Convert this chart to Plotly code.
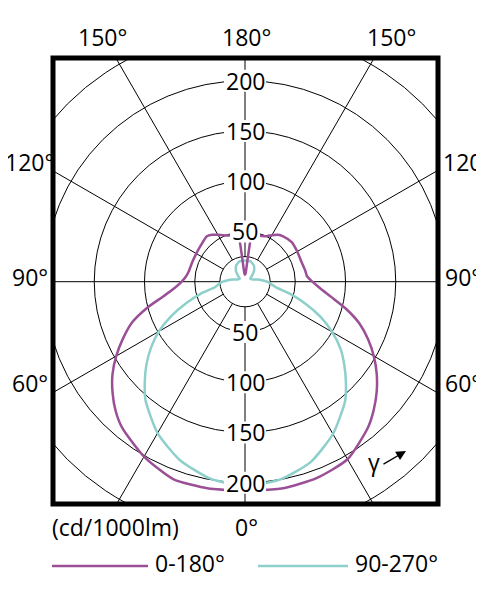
import numpy as np
import plotly.graph_objects as go

# gamma = angle from nadir (deg), intensities in cd/1000lm
gamma = [0, 10, 20, 30, 40, 45, 50, 55, 60, 65, 70, 75, 80, 85, 90, 95, 100,
         110, 120, 130, 140, 145, 150, 155, 160, 165, 170, 172, 173, 174, 176, 180]
# C0-180 plane (right side C0, left side C180)
c0 = [208, 209, 208, 204, 190, 181, 171, 160, 148, 135, 121, 104, 87, 75, 67, 62, 61,
      59.5, 60, 61, 59, 57, 53.5, 50, 48.5, 47.5, 47, 45, 30, 15, 8, 7]
c180 = [208, 209, 209, 201, 190, 182, 172, 161, 148, 134, 120, 101, 82, 70, 63, 59, 57,
        56, 56, 57, 59, 57, 54, 51, 49, 48, 47, 45, 30, 15, 8, 7]
# C90-270 plane
c90 = [204, 200, 191, 175, 155, 142, 129, 116, 100, 83, 64, 46, 31, 26, 22, 17, 12,
       7, 6, 9, 14, 16, 18, 19, 20, 21, 21, 21, 21, 21, 21, 21]
c270 = [204, 199, 189, 174, 154, 141, 128, 114, 99, 81, 62, 45, 30, 26, 22, 17, 12,
        7, 6, 9, 14, 16, 18, 19, 20, 21, 21, 21, 21, 21, 21, 21]

ring_values = [25, 50, 100, 150, 200, 250]
ring_labels = [50, 100, 150, 200]
spoke_angles = list(range(0, 360, 30))

MAGENTA = "#9a4f96"
CYAN = "#8dcfcb"
FONT = "Open Sans"
FS = 23

# page geometry (window px); the page body adds an 8px offset
OFF = 8
W, H = 484 - OFF, 600 - OFF
L, R, T, B = 53, 438, 58, 504
CX, CY = 245, 281.7
S = 1.005  # px per cd/1000lm


def px(x):
    return (x - L) / (R - L)


def py(y):
    return (B - y) / (B - T)


def plane_xy(left, right):
    g = np.radians(gamma)
    il, ir = np.array(left, float), np.array(right, float)
    x = np.concatenate([(-il * np.sin(g))[::-1], ir * np.sin(g)])
    y = np.concatenate([(-il * np.cos(g))[::-1], -ir * np.cos(g)])
    return x, y


fig = go.Figure()
x1, y1 = plane_xy(c270, c90)
fig.add_trace(go.Scatter(x=x1, y=y1, mode="lines", name="90-270°",
                         line=dict(color=CYAN, width=2.5, shape="spline", smoothing=0.6)))
x0, y0 = plane_xy(c180, c0)
fig.add_trace(go.Scatter(x=x0, y=y0, mode="lines", name="0-180°",
                         line=dict(color=MAGENTA, width=2.5, shape="spline", smoothing=0.6)))

shapes = []
for r in ring_values:
    shapes.append(dict(type="circle", xref="x", yref="y", x0=-r, x1=r, y0=-r, y1=r,
                       line=dict(color="black", width=1), layer="below"))
for a in spoke_angles:
    t = np.radians(a)
    shapes.append(dict(type="line", xref="x", yref="y",
                       x0=25 * np.sin(t), y0=-25 * np.cos(t),
                       x1=400 * np.sin(t), y1=-400 * np.cos(t),
                       line=dict(color="black", width=1), layer="below"))

annotations = []
for v in ring_labels:
    hw = (15 if v < 100 else 21) / S
    hh = 11 / S
    for sgn in (1, -1):
        shapes.append(dict(type="rect", xref="x", yref="y", x0=-hw, x1=hw,
                           y0=sgn * v - hh, y1=sgn * v + hh,
                           fillcolor="white", line=dict(width=0), layer="above"))
        annotations.append(dict(x=0, y=sgn * v, xref="x", yref="y", text=str(v),
                                showarrow=False, xanchor="center", yanchor="middle",
                                font=dict(size=FS)))

# frame
shapes.append(dict(type="rect", xref="paper", yref="paper", x0=0, x1=1, y0=0, y1=1,
                   line=dict(color="black", width=5), layer="above"))
# legend lines
shapes.append(dict(type="line", xref="paper", yref="paper", x0=px(52), x1=px(148),
                   y0=py(566), y1=py(566), line=dict(color=MAGENTA, width=2.5)))
shapes.append(dict(type="line", xref="paper", yref="paper", x0=px(258), x1=px(348),
                   y0=py(566), y1=py(566), line=dict(color=CYAN, width=2.5)))

outer_labels = [
    ("150°", 76, 37), ("180°", 220, 37), ("150°", 365, 37),
    ("120°", 3, 162), ("90°", 10, 277), ("60°", 10, 383),
    ("120°", 441, 162), ("90°", 443, 277), ("60°", 443, 383),
    ("(cd/1000lm)", 50, 527), ("0°", 233, 527),
    ("0-180°", 153, 563), ("90-270°", 353, 563),
]
for txt, lx, ly in outer_labels:
    annotations.append(dict(x=px(lx), y=py(ly), xref="paper", yref="paper", text=txt,
                            showarrow=False, xanchor="left", yanchor="middle",
                            font=dict(size=FS)))

# gamma arrow
annotations.append(dict(x=px(373.5), y=py(462), xref="paper", yref="paper", text="γ",
                        showarrow=False, xanchor="center", yanchor="middle",
                        font=dict(size=FS)))
annotations.append(dict(x=px(406), y=py(451), xref="paper", yref="paper", text="",
                        showarrow=True, ax=-24, ay=14, arrowhead=2, arrowsize=1.5,
                        arrowwidth=1.3, arrowcolor="black"))

fig.update_layout(
    width=W, height=H,
    margin=dict(l=L - OFF, r=484 - R, t=T - OFF, b=600 - B),
    paper_bgcolor="white", plot_bgcolor="white",
    showlegend=False,
    font=dict(family=FONT, color="black"),
    xaxis=dict(range=[(L - CX) / S, (R - CX) / S], visible=False, fixedrange=True),
    yaxis=dict(range=[(CY - B) / S, (CY - T) / S], visible=False, fixedrange=True),
    shapes=shapes,
    annotations=annotations,
)

fig.write_html("out.html")
